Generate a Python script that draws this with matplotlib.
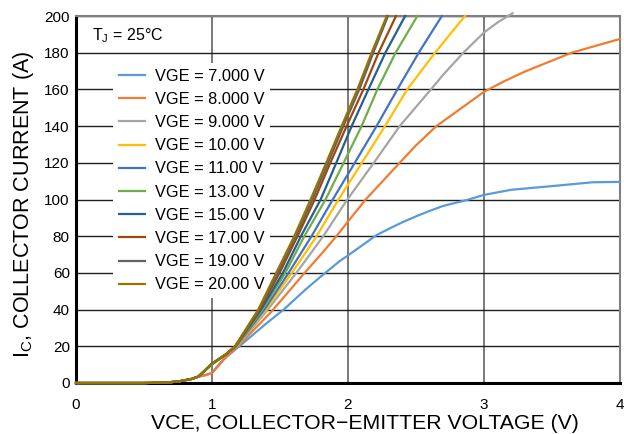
import matplotlib.pyplot as plt

plt.rcParams['font.family'] = 'Liberation Sans'
plt.rcParams['mathtext.fontset'] = 'custom'
plt.rcParams['mathtext.rm'] = 'Liberation Sans'
plt.rcParams['mathtext.it'] = 'Liberation Sans:italic'

# shared turn-on region (all gate voltages)
foot_vce = [0, 0.5, 0.65, 0.75, 0.85, 0.9]
foot_ic = [0, 0, 0.2, 0.8, 2.2, 3.5]

# collector current levels for the high gate-voltage curves
ic_hi = [10.5, 15.5, 20, 40, 60, 80, 100, 120, 140, 160, 180, 200]

vce_20 = [1.0, 1.1, 1.17, 1.34, 1.472, 1.605, 1.725, 1.84, 1.953, 2.069, 2.174, 2.285]
vce_19 = [1.0, 1.1, 1.17, 1.345, 1.485, 1.617, 1.738, 1.853, 1.966, 2.083, 2.186, 2.294]
vce_17 = [1.0, 1.1, 1.17, 1.35, 1.497, 1.629, 1.755, 1.87, 1.99, 2.113, 2.225, 2.353]
vce_15 = [1.0, 1.1, 1.172, 1.36, 1.521, 1.654, 1.799, 1.914, 2.027, 2.15, 2.275, 2.42]
vce_13 = [1.0, 1.1, 1.175, 1.37, 1.539, 1.679, 1.835, 1.968, 2.10, 2.216, 2.35, 2.51]
vce_11 = [1.0, 1.1, 1.178, 1.385, 1.563, 1.732, 1.888, 2.05, 2.21, 2.363, 2.52, 2.69]
vce_10 = [1.0, 1.1, 1.18, 1.395, 1.587, 1.769, 1.93, 2.102, 2.272, 2.436, 2.64, 2.86]

vce_9 = [1.0, 1.1, 1.185, 1.41, 1.62, 1.818, 1.995, 2.19, 2.38, 2.61, 2.7, 2.848,
         3.0, 3.1, 3.21]
ic_9 = [10, 15.2, 20, 40, 60, 80, 100, 120, 140, 160, 168, 180,
        191, 196.5, 201.5]

vce_8 = [0.95, 1.0, 1.05, 1.1, 1.2, 1.255, 1.426, 1.574, 1.681, 1.8, 1.915, 2.0,
         2.13, 2.38, 2.5, 2.65, 2.8, 3.0, 3.15, 3.3, 3.45, 3.645, 3.8, 4.0]
ic_8 = [4.3, 5.5, 9.5, 14, 20.5, 25, 38, 50.7, 60, 70, 80, 88,
        100, 120, 129.5, 140, 148, 158.7, 164.5, 169.7, 174.2, 180, 183.3, 187.5]

vce_7 = [0.95, 1.0, 1.05, 1.08, 1.255, 1.40, 1.524, 1.684, 1.8, 1.94, 2.0,
         2.21, 2.3, 2.4, 2.5, 2.6, 2.7, 2.873, 3.0, 3.2, 3.5, 3.8, 4.0]
ic_7 = [4.2, 5.5, 10, 12.5, 23.4, 32.5, 39.8, 50.7, 58, 66.5, 69.5,
        80.6, 84, 87.6, 90.8, 93.8, 96.5, 99.7, 102.5, 105.3, 107.3, 109.4, 109.6]

labels = ['VGE = 7.000 V', 'VGE = 8.000 V', 'VGE = 9.000 V', 'VGE = 10.00 V',
          'VGE = 11.00 V', 'VGE = 13.00 V', 'VGE = 15.00 V', 'VGE = 17.00 V',
          'VGE = 19.00 V', 'VGE = 20.00 V']
colors = ['#5B9BD5', '#ED7D31', '#A5A5A5', '#FFC000', '#4472C4',
          '#70AD47', '#255E91', '#9E480E', '#636363', '#997300']

series = [
    (vce_7, ic_7), (vce_8, ic_8), (vce_9, ic_9),
    (vce_10, ic_hi), (vce_11, ic_hi), (vce_13, ic_hi),
    (vce_15, ic_hi), (vce_17, ic_hi), (vce_19, ic_hi), (vce_20, ic_hi),
]

fig = plt.figure(figsize=(6.24, 4.34), dpi=100)
ax = fig.add_axes([76 / 624, 1 - 383 / 434, 544 / 624, 367 / 434])

for (x, y), lab, c in zip(series, labels, colors):
    ax.plot(foot_vce + x, foot_ic + y, color=c, lw=1.6, label=lab,
            solid_joinstyle='round', clip_on=False, zorder=3)

ax.set_xlim(0, 4)
ax.set_ylim(0, 200)
ax.set_xticks([0, 1, 2, 3, 4])
ax.set_yticks(range(0, 201, 20))
ax.tick_params(length=0, labelsize=11)
ax.tick_params(axis='x', pad=10.5)
ax.tick_params(axis='y', pad=4.5)

ax.set_axisbelow(True)
ax.yaxis.grid(True, color='#1e1e1e', lw=1.0)
ax.xaxis.grid(True, color='#6e6e6e', lw=1.3)

for side in ['left', 'bottom']:
    ax.spines[side].set_color('black')
    ax.spines[side].set_linewidth(2.2)
for side in ['top', 'right']:
    ax.spines[side].set_color('#808080')
    ax.spines[side].set_linewidth(1.5)

ax.set_xlabel('VCE, COLLECTOR\u2212EMITTER VOLTAGE (V)', fontsize=15.3, labelpad=2)
ax.xaxis.label.set_x(0.531)
ax.set_ylabel(r'I$_\mathregular{C}$, COLLECTOR CURRENT (A)', fontsize=15.5, labelpad=6)
ax.yaxis.label.set_y(0.486)

ax.text(0.029, 0.947, r'T$_\mathregular{J}$ = 25°C', transform=ax.transAxes,
        fontsize=11.5, va='center', ha='left')

leg = ax.legend(loc='upper left', bbox_to_anchor=(0.068, 0.872), fontsize=11.8,
                frameon=True, facecolor='white', edgecolor='none', framealpha=1,
                fancybox=False, handlelength=1.6, handletextpad=0.6,
                labelspacing=0.5, borderpad=0.35, borderaxespad=0)
leg.set_zorder(2.5)

fig.savefig('out.png', dpi=100)
